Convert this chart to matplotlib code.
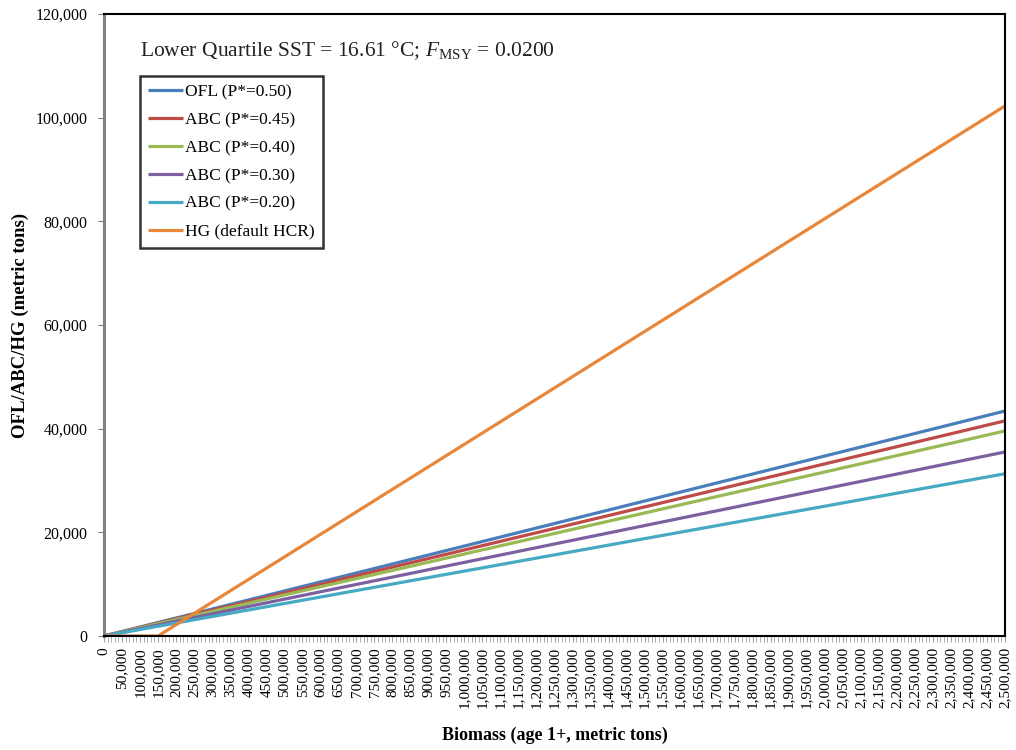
import matplotlib
matplotlib.use('Agg')
import matplotlib.pyplot as plt
from matplotlib.ticker import FuncFormatter, MultipleLocator

plt.rcParams['font.family'] = ['Liberation Serif', 'DejaVu Serif']
plt.rcParams['mathtext.fontset'] = 'custom'
plt.rcParams['mathtext.rm'] = 'Liberation Serif'
plt.rcParams['mathtext.it'] = 'Liberation Serif:italic'

# data (straight lines)
biomass = [0, 150000, 2500000]
ofl = [0, 2600, 43400]
abc45 = [0, 2490, 41500]
abc40 = [0, 2370, 39550]
abc30 = [0, 2130, 35500]
abc20 = [0, 1880, 31300]
hg = [0, 0, 102250]

labels = ['OFL (P*=0.50)', 'ABC (P*=0.45)', 'ABC (P*=0.40)',
          'ABC (P*=0.30)', 'ABC (P*=0.20)', 'HG (default HCR)']
colors = ['#4A7EBB', '#BE4B48', '#98B954', '#7D60A0', '#46AAC5', '#E8873A']
series = [ofl, abc45, abc40, abc30, abc20, hg]

fig = plt.figure(figsize=(10.16, 7.5), dpi=100)
ax = fig.add_axes([0.1024, 0.152, 0.8868, 0.8295])

for y, lab, c in zip(series, labels, colors):
    ax.plot(biomass, y, color=c, lw=2.3, label=lab, solid_capstyle='butt')

ax.set_xlim(0, 2500000)
ax.set_ylim(0, 120000)
ax.xaxis.set_major_locator(MultipleLocator(50000))
ax.xaxis.set_minor_locator(MultipleLocator(10000))
ax.yaxis.set_major_locator(MultipleLocator(20000))
fmt = FuncFormatter(lambda v, p: f'{int(v):,}')
ax.xaxis.set_major_formatter(fmt)
ax.yaxis.set_major_formatter(fmt)
plt.setp(ax.get_xticklabels(), rotation=90, fontsize=11)
plt.setp(ax.get_yticklabels(), fontsize=11.5)
ax.tick_params(axis='x', which='both', direction='out', color='#a0a0a0', length=4, pad=4)
ax.tick_params(axis='y', direction='out', color='#808080', length=4, pad=8)

ax.spines['left'].set_color('#808080')
ax.spines['left'].set_linewidth(2.2)
for s in ['top', 'right', 'bottom']:
    ax.spines[s].set_color('black')
    ax.spines[s].set_linewidth(1.5)

ax.set_ylabel('OFL/ABC/HG (metric tons)', fontsize=13.5, fontweight='bold')
ax.yaxis.set_label_coords(-0.083, 0.5)
ax.set_xlabel('Biomass (age 1+, metric tons)', fontsize=13, fontweight='bold')
ax.xaxis.set_label_coords(0.5, -0.146)

ax.text(0.04, 0.932, r'Lower Quartile SST = 16.61 °C; $F_{\mathrm{MSY}}$ = 0.0200',
        transform=ax.transAxes, fontsize=15.5, color='#222222')

leg = ax.legend(loc='upper left', bbox_to_anchor=(0.04, 0.9), fontsize=12.5,
                frameon=True, fancybox=False, handlelength=2.0, handletextpad=0.15,
                labelspacing=0.68, borderpad=0.45, borderaxespad=0)
leg.get_frame().set_edgecolor('black')
leg.get_frame().set_linewidth(1.8)

fig.savefig('out.png', dpi=100)
